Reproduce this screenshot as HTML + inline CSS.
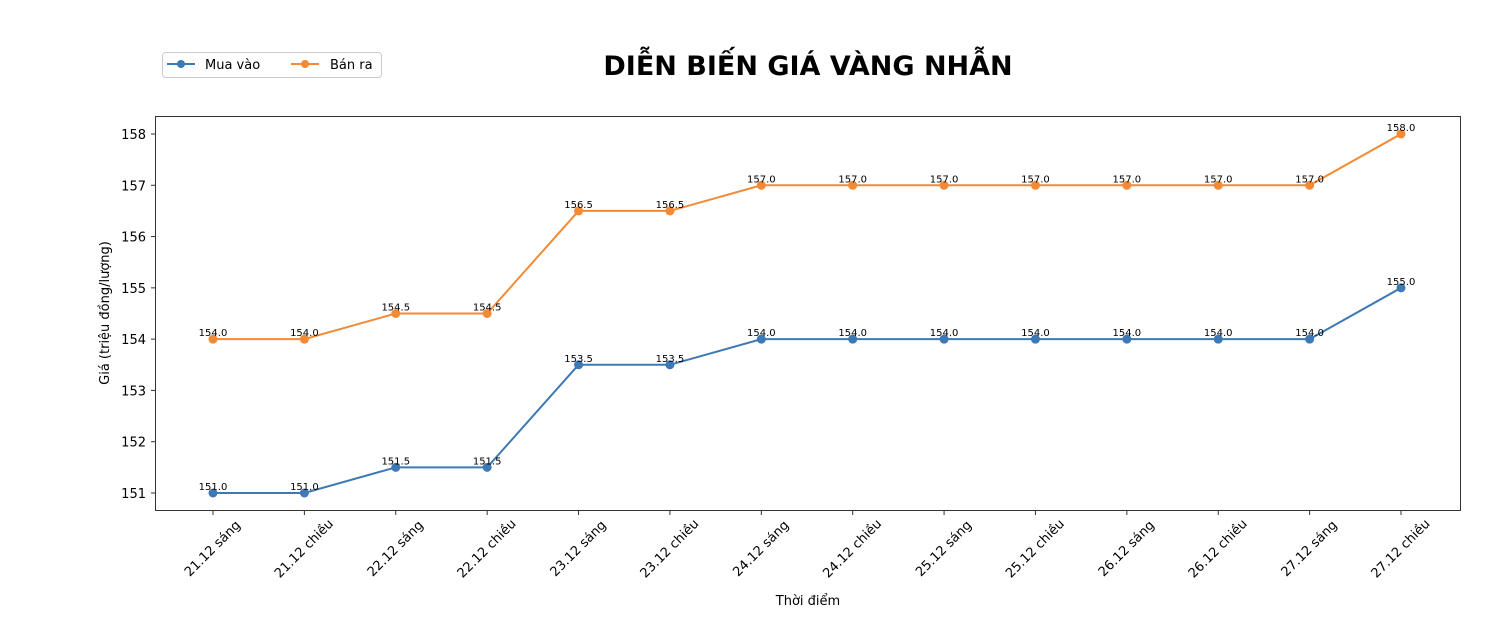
<!DOCTYPE html>
<html><head><meta charset="utf-8"><style>body{margin:0;background:#fff}svg{display:block}text{font-family:"DejaVu Sans","Liberation Sans",sans-serif}</style></head><body>
<svg id="s" width="1506" height="620" xmlns="http://www.w3.org/2000/svg">
<rect width="1506" height="620" fill="#fff"/>
<text x="808" y="75" font-size="27" font-weight="bold" text-anchor="middle">DIỄN BIẾN GIÁ VÀNG NHẪN</text>
<rect x="162.5" y="52.5" width="219" height="25" rx="3" fill="#fff" stroke="#ccc"/>
<line x1="167" y1="64" x2="195" y2="64" stroke="#3d79b5" stroke-width="2"/><circle cx="181" cy="64" r="4" fill="#3d79b5"/>
<text x="205" y="69" font-size="13">Mua vào</text>
<line x1="291" y1="64" x2="319" y2="64" stroke="#f28a36" stroke-width="2"/><circle cx="305" cy="64" r="4" fill="#f28a36"/>
<text x="330" y="69" font-size="13">Bán ra</text>
<g id="g"></g>
<rect x="155.5" y="116.5" width="1305" height="394" fill="none" stroke="#333" stroke-width="1"/>
<text x="808" y="605" font-size="13" text-anchor="middle">Thời điểm</text>
<text transform="translate(109,313) rotate(-90)" font-size="13" text-anchor="middle">Giá (triệu đồng/lượng)</text>
</svg>
<script>
var g=document.getElementById('g'),h='';
var X=i=>213+i*91.385, Y=v=>493-(v-151)*51.286;
for(var v=151;v<=158;v++){var y=Y(v);h+=`<line x1="151" x2="155" y1="${y}" y2="${y}" stroke="#333"/><text x="146" y="${y+5}" font-size="13" text-anchor="end">${v}</text>`;}
var labs=["21.12 sáng","21.12 chiều","22.12 sáng","22.12 chiều","23.12 sáng","23.12 chiều","24.12 sáng","24.12 chiều","25.12 sáng","25.12 chiều","26.12 sáng","26.12 chiều","27.12 sáng","27.12 chiều"];
labs.forEach((l,i)=>{var x=X(i);h+=`<line x1="${x}" x2="${x}" y1="511" y2="515" stroke="#333"/><text transform="translate(${x},549) rotate(-45)" font-size="13" text-anchor="middle" dominant-baseline="central">${l}</text>`;});
var buy=[151,151,151.5,151.5,153.5,153.5,154,154,154,154,154,154,154,155];
var sell=buy.map(v=>v+3);
[[buy,"#3d79b5"],[sell,"#f28a36"]].forEach(([d,c])=>{
h+=`<polyline fill="none" stroke="${c}" stroke-width="2" points="${d.map((v,i)=>X(i)+','+Y(v)).join(' ')}"/>`;
d.forEach((v,i)=>{h+=`<circle cx="${X(i)}" cy="${Y(v)}" r="4.5" fill="${c}"/><text x="${X(i)}" y="${Y(v)-3}" font-size="10" text-anchor="middle">${v.toFixed(1)}</text>`;});
});
g.innerHTML=h;
</script>
</body></html>
